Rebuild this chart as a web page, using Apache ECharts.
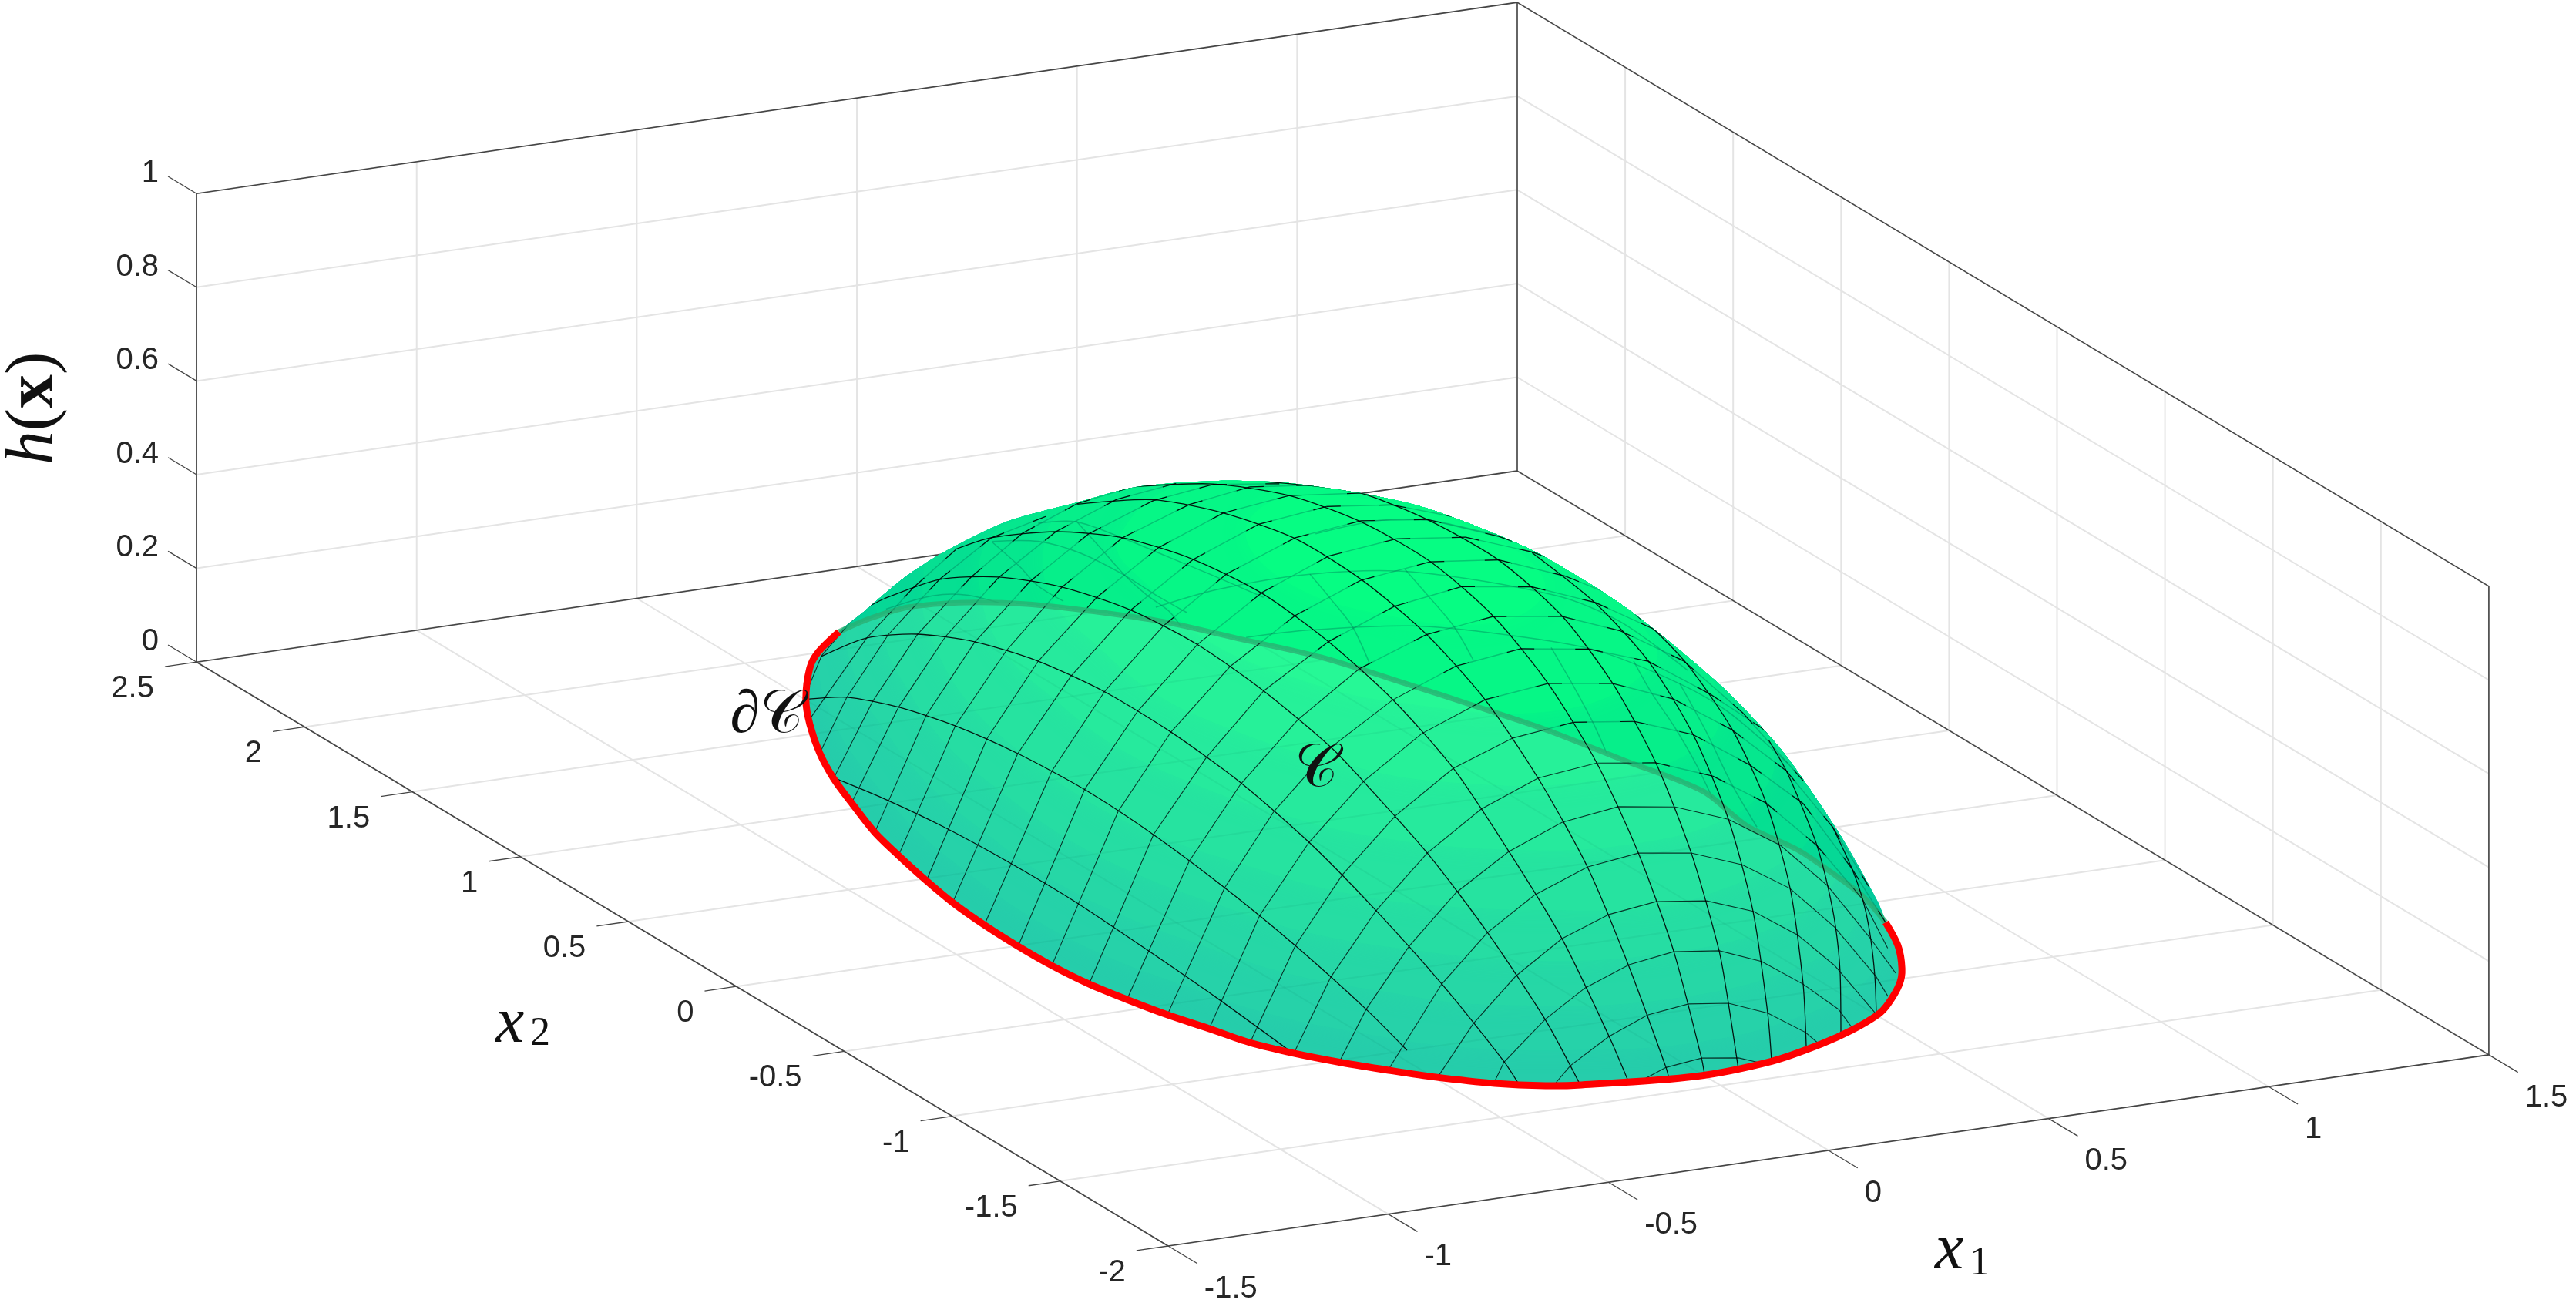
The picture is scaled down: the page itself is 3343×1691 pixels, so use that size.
<!DOCTYPE html>
<html>
<head>
<meta charset="utf-8">
<title>h(x)</title>
<style>
    html, body { margin: 0; padding: 0; background: #fff; }
    #chart { width: 3343px; height: 1691px; }
</style>
<script src="https://cdn.jsdelivr.net/npm/echarts@6/dist/echarts.min.js"></script>
</head>
<body>
<div id="chart"></div>
<script>
// axis ticks
const x1Ticks = [-1.5, -1, -0.5, 0, 0.5, 1, 1.5];
const x2Ticks = [-2, -1.5, -1, -0.5, 0, 0.5, 1, 1.5, 2, 2.5];
const hTicks = [0, 0.2, 0.4, 0.6, 0.8, 1];
const x1Labels = ['-1.5', '-1', '-0.5', '0', '0.5', '1', '1.5'];
const x2Labels = ['-2', '-1.5', '-1', '-0.5', '0', '0.5', '1', '1.5', '2', '2.5'];
const hLabels = ['0', '0.2', '0.4', '0.6', '0.8', '1'];

// boundary of the set on the floor, the first 37 points are the visible red part
const boundaryX1 = [0.799, 0.751, 0.688, 0.637, 0.555, 0.503, 0.408, 0.31, 0.169, -0.019, -0.253, -0.321, -0.407, -0.496, -0.561, -0.624, -0.683, -0.731, -0.763, -0.797, -0.825, -0.847, -0.859, -0.862, -0.859, -0.849, -0.83, -0.804, -0.777, -0.73, -0.688, -0.636, -0.567, -0.499, -0.396, -0.334, -0.232,
    -0.137, -0.03, 0.092, 0.196, 0.284, 0.393, 0.483, 0.573, 0.654, 0.7, 0.764, 0.814, 0.864, 0.839, 0.859, 0.85, 0.837];
const boundaryX2 = [-0.635, -0.79, -0.937, -1.03, -1.144, -1.202, -1.275, -1.333, -1.395, -1.421, -1.371, -1.344, -1.284, -1.192, -1.107, -1.017, -0.916, -0.81, -0.687, -0.564, -0.431, -0.301, -0.154, -0.003, 0.155, 0.322, 0.486, 0.669, 0.834, 1.036, 1.206, 1.376, 1.562, 1.719, 1.911, 2, 2.11,
    2.164, 2.201, 2.177, 2.114, 2.023, 1.881, 1.7, 1.519, 1.259, 1.1, 0.867, 0.605, 0.343, 0.088, -0.106, -0.304, -0.452];
const frontCount = 37;

// outer edge of the dome as it is seen, left to right
const edgeX1 = [-0.193, -0.163, -0.156, -0.161, -0.115, -0.032, 0.061, 0.149, 0.218, 0.294, 0.4, 0.498, 0.65, 0.706, 0.735, 0.777];
const edgeX2 = [2.071, 1.95, 1.782, 1.48, 1.245, 1.143, 0.964, 0.837, 0.611, 0.455, 0.196, -0.038, -0.165, -0.342, -0.541, -0.644];
const edgeH = [0.05, 0.15, 0.25, 0.4, 0.5, 0.55, 0.6, 0.62, 0.65, 0.65, 0.62, 0.55, 0.4, 0.3, 0.18, 0.05];

// height bands of the dome
const bandLevels = [0.03, 0.1, 0.18, 0.26, 0.35, 0.45, 0.55, 0.65, 0.73];
const bandH = [0, 0.06, 0.14, 0.22, 0.3, 0.4, 0.5, 0.6, 0.7];
const bandX1 = [
    [],
    [0, -0.214, -0.449, -0.592, -0.699, -0.766, -0.818, -0.835, -0.815, -0.774, -0.696, -0.603, -0.45, -0.2, 1, 1.4, 1.4, 0.8, 0.713, 0.608, 0.453, 0.226],
    [0, -0.376, -0.537, -0.656, -0.725, -0.778, -0.797, -0.775, -0.734, -0.651, -0.552, -0.375, 0, 1, 1.3, 1.3, 0.755, 0.664, 0.549, 0.382],
    [0, -0.275, -0.473, -0.607, -0.684, -0.739, -0.758, -0.736, -0.694, -0.6, -0.489, -0.3, 0.5, 1.2, 1.2, 0.715, 0.612, 0.488, 0.282],
    [0, -0.07, -0.389, -0.544, -0.631, -0.7, -0.72, -0.695, -0.642, -0.537, -0.403, -0.2, 0.5, 1.1, 1.1, 0.67, 0.554, 0.404, 0.08],
    [0, -0.234, -0.444, -0.555, -0.619, -0.645, -0.614, -0.562, -0.436, -0.257, -0.1, 0.3, 0.9, 0.9, 0.581, 0.451, 0.254],
    [0, -0.305, -0.448, -0.525, -0.555, -0.516, -0.456, -0.292, -0.165, 0, 0.3, 0.6, 0.65, 0.56, 0.536, 0.458, 0.308],
    [0, -0.29, -0.402, -0.44, -0.389, -0.306, 0, 0.357, 0.45, 0.458, 0.406, 0.31],
    [0, -0.186, -0.259, -0.181, 0, 0.188, 0.258, 0.189]
];
const bandX2 = [
    [],
    [-1.385, -1.337, -1.199, -1.012, -0.811, -0.563, -0.302, -0.007, 0.332, 0.668, 1.036, 1.375, 1.76, 2.2, 2.2, 1, -0.5, -0.563, -0.811, -1.012, -1.199, -1.337],
    [-1.325, -1.199, -1.012, -0.811, -0.563, -0.302, -0.007, 0.332, 0.668, 1.036, 1.375, 1.76, 2.1, 2, 1, -0.4, -0.563, -0.811, -1.012, -1.199],
    [-1.27, -1.199, -1.012, -0.811, -0.563, -0.302, -0.007, 0.332, 0.668, 1.036, 1.375, 1.76, 1.9, 1, -0.3, -0.563, -0.811, -1.012, -1.199],
    [-1.21, -1.199, -1.012, -0.811, -0.563, -0.302, -0.007, 0.332, 0.668, 1.036, 1.375, 1.7, 1.8, 1, -0.1, -0.563, -0.811, -1.012, -1.199],
    [-1.085, -1.012, -0.811, -0.563, -0.302, -0.007, 0.332, 0.668, 1.036, 1.375, 1.5, 1.6, 1, 0, -0.563, -0.811, -1.012],
    [-0.95, -0.811, -0.563, -0.302, -0.007, 0.332, 0.668, 1.036, 1.205, 1.28, 1.25, 0.9, 0.332, -0.007, -0.302, -0.563, -0.811],
    [-0.77, -0.563, -0.302, -0.007, 0.332, 0.668, 0.97, 0.668, 0.332, -0.007, -0.302, -0.563],
    [-0.46, -0.302, -0.007, 0.332, 0.51, 0.332, -0.007, -0.302]
];

// mesh lines running along x2
const arcX1 = [-0.686, -0.498, -0.362, -0.251, -0.155, -0.073, 0.007, 0.084, 0.166, 0.265, 0.37, 0.5, 0.697];
const arcX2 = [
    [1.208, 0.973, 0.702, 0.409, 0.091, -0.23, -0.576, -0.919],
    [1.721, 1.531, 1.292, 1.028, 0.739, 0.429, 0.111, -0.217, -0.546, -0.874, -1.063],
    [1.927, 1.716, 1.481, 1.217, 0.924, 0.613, 0.307, -0.011, -0.332, -0.643, -0.946, -1.235, -1.299],
    [1.97, 1.86, 1.606, 1.332, 1.039, 0.721, 0.411, 0.104, -0.207, -0.353, -0.653, -0.931, -1.199, -1.356],
    [1.727, 1.563, 1.263, 0.953, 0.628, 0.307, 0, -0.296, -0.578, -0.835, -1.081, -1.299, -1.388],
    [1.33, 0.977, 0.656, 0.32, 0.01, -0.286, -0.557, -0.804, -1.032, -1.221, -1.396, -1.41],
    [1.24, 0.865, 0.512, 0.18, -0.141, -0.43, -0.687, -0.912, -1.105, -1.269, -1.397, -1.411],
    [0.787, 0.573, 0.338, 0.027, -0.301, -0.594, -0.829, -1.029, -1.193, -1.322, -1.365, -1.411],
    [-0.288, -0.58, -0.827, -1.034, -1.198, -1.312, -1.38, -1.398],
    [-0.507, -0.789, -1.014, -1.171, -1.282, -1.342, -1.357],
    [-0.968, -1.05, -1.128, -1.192, -1.242, -1.278, -1.299, -1.303],
    [-0.999, -1.088, -1.141, -1.173, -1.195, -1.202],
    [-0.819, -0.879, -0.915]
];
const arcH = [
    [0, 0.02, 0.036, 0.044, 0.045, 0.035, 0.021, 0.001],
    [0, 0.057, 0.102, 0.135, 0.156, 0.165, 0.157, 0.135, 0.102, 0.057, 0.022],
    [0.016, 0.114, 0.187, 0.244, 0.284, 0.304, 0.303, 0.285, 0.245, 0.185, 0.113, 0.027, 0],
    [0.086, 0.143, 0.254, 0.335, 0.395, 0.434, 0.446, 0.432, 0.398, 0.368, 0.296, 0.204, 0.092, 0.001],
    [0.272, 0.342, 0.438, 0.511, 0.555, 0.571, 0.553, 0.512, 0.443, 0.337, 0.219, 0.071, 0],
    [0.467, 0.574, 0.635, 0.673, 0.67, 0.637, 0.573, 0.473, 0.347, 0.191, 0.02, 0],
    [0.518, 0.628, 0.701, 0.737, 0.741, 0.706, 0.632, 0.525, 0.386, 0.221, 0.03, 0],
    [0.644, 0.695, 0.744, 0.773, 0.778, 0.74, 0.661, 0.547, 0.4, 0.227, 0.127, 0],
    [0.779, 0.753, 0.697, 0.598, 0.462, 0.297, 0.098, 0],
    [0.726, 0.675, 0.589, 0.476, 0.324, 0.137, 0],
    [0.54, 0.497, 0.436, 0.377, 0.304, 0.228, 0.138, 0],
    [0.346, 0.282, 0.226, 0.164, 0.081, 0],
    [0.104, 0.055, 0]
];

// mesh lines running along x1
const crossX2 = [-1.4, -1.337, -1.27, -1.199, -1.103, -1.012, -0.916, -0.811, -0.687, -0.563, -0.437, -0.302, -0.154, -0.007, 0.166, 0.332, 0.486, 0.668, 0.833, 1.036, 1.205, 1.375, 1.596, 1.76];
const crossX1 = [
    [-0.133, -0.075, 0.006, 0.09, 0.144],
    [-0.294, -0.261, -0.174, -0.086, 0.007, 0.098, 0.187, 0.273, 0.306],
    [-0.4, -0.379, -0.286, -0.195, -0.095, 0.006, 0.11, 0.206, 0.3, 0.381, 0.414],
    [-0.494, -0.414, -0.318, -0.213, -0.106, 0.001, 0.116, 0.222, 0.323, 0.407, 0.502],
    [-0.56, -0.439, -0.335, -0.229, -0.108, 0.008, 0.128, 0.244, 0.352, 0.454, 0.548, 0.575],
    [-0.627, -0.566, -0.468, -0.361, -0.242, -0.121, 0.007, 0.136, 0.257, 0.376, 0.483, 0.579, 0.637],
    [-0.683, -0.599, -0.496, -0.38, -0.258, -0.128, 0.005, 0.14, 0.269, 0.39, 0.505, 0.609, 0.666],
    [-0.731, -0.628, -0.521, -0.4, -0.269, -0.134, 0.004, 0.142, 0.275, 0.405, 0.526, 0.636, 0.713],
    [-0.763, -0.648, -0.536, -0.411, -0.28, -0.136, 0.007, 0.154, 0.292, 0.425, 0.548, 0.653, 0.735],
    [-0.797, -0.667, -0.555, -0.426, -0.286, -0.142, 0.005, 0.161, 0.295, 0.434, 0.56, 0.682, 0.752],
    [-0.828, -0.686, -0.569, -0.439, -0.299, -0.147, 0.004, 0.161, 0.294, 0.438, 0.573, 0.709],
    [-0.847, -0.7, -0.58, -0.45, -0.303, -0.153, -0.002, 0.159, 0.303, 0.436, 0.574],
    [-0.859, -0.708, -0.588, -0.453, -0.306, -0.157, 0.001, 0.156, 0.309, 0.438, 0.585],
    [-0.864, -0.712, -0.591, -0.456, -0.309, -0.158, -0.004, 0.153, 0.304, 0.438, 0.552],
    [-0.854, -0.702, -0.581, -0.448, -0.305, -0.149, 0, 0.152, 0.313, 0.453, 0.55],
    [-0.845, -0.698, -0.577, -0.442, -0.3, -0.151, 0.004, 0.153, 0.307, 0.456, 0.561],
    [-0.83, -0.692, -0.576, -0.443, -0.303, -0.156, -0.006, 0.157, 0.313, 0.47],
    [-0.804, -0.675, -0.559, -0.433, -0.295, -0.144, -0.006, 0.131, 0.306, 0.446],
    [-0.777, -0.66, -0.55, -0.424, -0.291, -0.144, -0.009, 0.142],
    [-0.73, -0.624, -0.517, -0.396, -0.266, -0.128, 0.007],
    [-0.688, -0.599, -0.497, -0.376, -0.259, -0.135, -0.01],
    [-0.636, -0.575, -0.48, -0.365, -0.247, -0.123],
    [-0.55, -0.421, -0.314, -0.219],
    [-0.478, -0.443, -0.354]
];
const crossH = [
    [0, 0.021, 0.03, 0.019, 0],
    [0.001, 0.033, 0.083, 0.117, 0.128, 0.117, 0.084, 0.031, 0],
    [0, 0.038, 0.116, 0.171, 0.207, 0.221, 0.209, 0.173, 0.112, 0.047, 0],
    [0.003, 0.105, 0.193, 0.259, 0.296, 0.309, 0.295, 0.258, 0.194, 0.117, 0],
    [0, 0.166, 0.262, 0.327, 0.371, 0.385, 0.369, 0.328, 0.263, 0.166, 0.048, 0.002],
    [0, 0.104, 0.226, 0.326, 0.397, 0.443, 0.459, 0.441, 0.398, 0.326, 0.225, 0.101, 0.018],
    [0, 0.151, 0.279, 0.386, 0.463, 0.512, 0.526, 0.508, 0.462, 0.388, 0.282, 0.153, 0.041],
    [0, 0.193, 0.33, 0.44, 0.523, 0.569, 0.584, 0.567, 0.521, 0.438, 0.339, 0.186, 0.06],
    [0, 0.226, 0.367, 0.481, 0.564, 0.617, 0.632, 0.612, 0.56, 0.476, 0.372, 0.238, 0.1],
    [0, 0.253, 0.401, 0.52, 0.602, 0.655, 0.672, 0.65, 0.606, 0.518, 0.423, 0.287, 0.146],
    [0, 0.277, 0.426, 0.546, 0.636, 0.688, 0.706, 0.685, 0.636, 0.552, 0.422, 0.26],
    [0, 0.3, 0.448, 0.572, 0.657, 0.712, 0.733, 0.711, 0.658, 0.583, 0.468],
    [0, 0.309, 0.462, 0.584, 0.672, 0.727, 0.745, 0.728, 0.672, 0.605, 0.483],
    [0, 0.316, 0.467, 0.59, 0.681, 0.738, 0.754, 0.736, 0.684, 0.62, 0.506],
    [0, 0.305, 0.46, 0.581, 0.672, 0.728, 0.744, 0.726, 0.668, 0.603, 0.524],
    [0, 0.296, 0.445, 0.567, 0.656, 0.711, 0.728, 0.711, 0.662, 0.596, 0.524],
    [0, 0.285, 0.434, 0.552, 0.639, 0.693, 0.71, 0.693, 0.647, 0.576],
    [0, 0.259, 0.404, 0.522, 0.609, 0.659, 0.678, 0.663, 0.622, 0.562],
    [0, 0.234, 0.375, 0.488, 0.571, 0.622, 0.638, 0.619],
    [0, 0.189, 0.326, 0.436, 0.516, 0.566, 0.582],
    [0, 0.153, 0.282, 0.387, 0.465, 0.511, 0.53],
    [0, 0.11, 0.232, 0.333, 0.406, 0.435],
    [0, 0.155, 0.249, 0.316],
    [0, 0.075, 0.16]
];

// faint far side of the surface, lines along x1 then lines along x2
const farCrossX2 = [0.5, -0.1, 0.9, 1.3, 1, 1.7];
const farCrossX1 = [
    [-0.302, -0.162, 0.048, 0.281, 0.608, 0.754, 0.906],
    [-0.391, -0.246, -0.013, 0.192, 0.402, 0.594, 0.704, 0.839],
    [0.257, 0.397, 0.512, 0.624, 0.805, 1.015],
    [-0.282, -0.177, -0.079, 0.015, 0.085, 0.161],
    [-0.324, -0.237, -0.132, -0.027, 0.066, 0.188],
    [-0.326, -0.221, -0.139, -0.023, 0.112]
];
const farCrossH = [
    [0.508, 0.527, 0.531, 0.504, 0.409, 0.333, 0.209],
    [0.622, 0.618, 0.595, 0.549, 0.487, 0.389, 0.314, 0.186],
    [0.478, 0.487, 0.472, 0.435, 0.369, 0.222],
    [0.424, 0.41, 0.371, 0.314, 0.263, 0.212],
    [0.552, 0.543, 0.494, 0.439, 0.39, 0.324],
    [0.175, 0.189, 0.179, 0.134, 0.079]
];
const farArcX1 = [0.6, 0.6, 0.6, 0.6, 0.6, 0, -0.2];
const farArcX2 = [
    [1.186, 1.079, 0.958, 0.868],
    [1.625, 1.536, 1.429, 1.35],
    [0.508, 0.411, 0.315, 0.251],
    [0.126, 0.047, -0.063, -0.16, -0.242],
    [-0.088, -0.206, -0.327, -0.445],
    [1.483, 1.376, 1.265, 1.158, 1.055, 0.984],
    [1.468, 1.339, 1.254, 1.136]
];
const farArcH = [
    [0.277, 0.25, 0.217, 0.17],
    [0.144, 0.12, 0.087, 0.031],
    [0.297, 0.247, 0.191, 0.143],
    [0.374, 0.331, 0.286, 0.236, 0.181],
    [0.385, 0.319, 0.238, 0.178],
    [0.378, 0.353, 0.326, 0.311, 0.305, 0.281],
    [0.366, 0.349, 0.331, 0.331]
];

// view of the box: floor corner at x1=-1.5, x2=-2 and screen step per unit of each axis
const view = {
    ox: 1516, oy: 1617,
    x1: [571.3, -82.7],
    x2: [-280.2, -168.4],
    h: [0, -608]
};
const x1Min = -1.5, x1Max = 1.5, x2Min = -2, x2Max = 2.5, hMin = 0, hMax = 1;

const sansFont = '"Liberation Sans", Arial, sans-serif';
const serifFont = '"Liberation Serif", "DejaVu Serif", serif';
const axisColor = '#444';
const gridColor = '#e4e4e4';
const textColor = '#262626';
const farColor = 'rgba(0,115,85,0.38)';

function project(api, x1, x2, h) {
    let sx = view.ox + (x1 - x1Min) * view.x1[0] + (x2 - x2Min) * view.x2[0] + h * view.h[0];
    let sy = view.oy + (x1 - x1Min) * view.x1[1] + (x2 - x2Min) * view.x2[1] + h * view.h[1];
    return api.coord([sx, sy]);
}

function line(api, a, b, color, width) {
    let p = project(api, a[0], a[1], a[2]);
    let q = project(api, b[0], b[1], b[2]);
    return {
        type: 'line',
        shape: { x1: p[0], y1: p[1], x2: q[0], y2: q[1] },
        style: { stroke: color, lineWidth: width }
    };
}

function label(api, p, dx, dy, text, align) {
    let c = project(api, p[0], p[1], p[2]);
    return {
        type: 'text',
        x: c[0] + dx,
        y: c[1] + dy,
        style: { text: text, font: '40px ' + sansFont, fill: textColor, align: align, verticalAlign: 'middle' }
    };
}

function plainText(x, y, text, size, style, align) {
    return {
        type: 'text',
        x: x,
        y: y,
        style: { text: text, font: style + ' ' + size + 'px ' + serifFont, fill: '#111', align: align, verticalAlign: 'middle' }
    };
}

function stroke(points, color, width, smooth) {
    return {
        type: 'polyline',
        shape: { points: points, smooth: smooth || 0 },
        style: { stroke: color, lineWidth: width, fill: null }
    };
}

function clipTo(points, smooth) {
    return { type: 'polygon', shape: { points: points, smooth: smooth } };
}

// winter colormap seen through a surface of alpha .85
function surfaceColor(h, layers) {
    let g = 0.76 + 0.32 * h;
    let r1 = 38, g1 = 216.75 * g + 38, b1 = 216.75 * (1 - g / 2) + 38;
    if (layers === 2) {
        r1 = 0.15 * r1;
        g1 = 216.75 * g + 0.15 * g1;
        b1 = 216.75 * (1 - g / 2) + 0.15 * b1;
    }
    return 'rgb(' + Math.round(r1) + ',' + Math.round(g1) + ',' + Math.round(b1) + ')';
}

function outlinePoints(api) {
    let pts = [];
    for (let i = 0; i < frontCount; i++) pts.push(project(api, boundaryX1[i], boundaryX2[i], 0));
    edgeX1.forEach(function (v, i) { pts.push(project(api, v, edgeX2[i], edgeH[i])); });
    return pts;
}

function farBoundaryPoints(api) {
    let pts = [];
    for (let i = frontCount - 1; i < boundaryX1.length; i++) pts.push(project(api, boundaryX1[i], boundaryX2[i], 0));
    pts.push(project(api, boundaryX1[0], boundaryX2[0], 0));
    return pts;
}

function upperPoints(api) {
    let pts = farBoundaryPoints(api);
    for (let i = edgeX1.length - 1; i >= 0; i--) pts.push(project(api, edgeX1[i], edgeX2[i], edgeH[i]));
    return pts;
}

function bandGroup(api, layers, clipPoints) {
    let children = [{
        type: 'polygon',
        shape: { points: clipPoints, smooth: 0.25 },
        style: { fill: surfaceColor(bandLevels[0], layers) }
    }];
    for (let k = 1; k < bandH.length; k++) {
        let pts = bandX1[k].map(function (v, i) { return project(api, v, bandX2[k][i], bandH[k]); });
        let color = surfaceColor(bandLevels[k], layers);
        children.push({
            type: 'polygon',
            shape: { points: pts, smooth: 0.4 },
            style: { fill: color, shadowBlur: 26, shadowColor: color }
        });
    }
    return { type: 'group', children: children, clipPath: clipTo(clipPoints, 0.25) };
}

function renderGrid(params, api) {
    let c = [];
    x1Ticks.forEach(function (v) {
        c.push(line(api, [v, x2Min, 0], [v, x2Max, 0], gridColor, 2));
        c.push(line(api, [v, x2Max, hMin], [v, x2Max, hMax], gridColor, 2));
    });
    x2Ticks.forEach(function (v) {
        c.push(line(api, [x1Min, v, 0], [x1Max, v, 0], gridColor, 2));
        c.push(line(api, [x1Max, v, hMin], [x1Max, v, hMax], gridColor, 2));
    });
    hTicks.forEach(function (v) {
        c.push(line(api, [x1Min, x2Max, v], [x1Max, x2Max, v], gridColor, 2));
        c.push(line(api, [x1Max, x2Max, v], [x1Max, x2Min, v], gridColor, 2));
    });
    // box edges
    let edges = [
        [[x1Min, x2Max, 0], [x1Min, x2Max, 1]],
        [[x1Max, x2Max, 0], [x1Max, x2Max, 1]],
        [[x1Max, x2Min, 0], [x1Max, x2Min, 1]],
        [[x1Min, x2Max, 1], [x1Max, x2Max, 1]],
        [[x1Max, x2Max, 1], [x1Max, x2Min, 1]],
        [[x1Min, x2Max, 0], [x1Max, x2Max, 0]],
        [[x1Max, x2Max, 0], [x1Max, x2Min, 0]],
        [[x1Min, x2Max, 0], [x1Min, x2Min, 0]],
        [[x1Min, x2Min, 0], [x1Max, x2Min, 0]]
    ];
    edges.forEach(function (e) { c.push(line(api, e[0], e[1], axisColor, 1.6)); });
    return { type: 'group', children: c };
}

function renderTicks(params, api) {
    let c = [];
    x1Ticks.forEach(function (v, i) {
        c.push(line(api, [v, x2Min, 0], [v, x2Min - 0.135, 0], axisColor, 1.3));
        let p = [v, x2Min - 0.135, 0];
        c.push(label(api, p, 9, 33, x1Labels[i], 'left'));
    });
    x2Ticks.forEach(function (v, i) {
        c.push(line(api, [x1Min, v, 0], [x1Min - 0.072, v, 0], axisColor, 1.3));
        let p = [x1Min - 0.072, v, 0];
        c.push(label(api, p, -14, 29, x2Labels[i], 'right'));
    });
    hTicks.forEach(function (v, i) {
        c.push(line(api, [x1Min, x2Max, v], [x1Min, x2Max + 0.132, v], axisColor, 1.3));
        let p = [x1Min, x2Max + 0.132, v];
        c.push(label(api, p, -12, -4, hLabels[i], 'right'));
    });
    // axis names
    c.push(plainText(2511, 1624, 'x', 84, 'italic', 'left'));
    c.push(plainText(2556, 1640, '1', 52, 'normal', 'left'));
    c.push(plainText(643, 1330, 'x', 84, 'italic', 'left'));
    c.push(plainText(688, 1342, '2', 52, 'normal', 'left'));
    c.push({
        type: 'text',
        x: 45,
        y: 530,
        rotation: Math.PI / 2,
        style: {
            text: '{i|h}{n|(}{b|x}{n|)}',
            align: 'center',
            verticalAlign: 'middle',
            fill: '#111',
            rich: {
                i: { font: 'italic 88px ' + serifFont, fill: '#111' },
                n: { font: '88px ' + serifFont, fill: '#111' },
                b: { font: 'bold 88px ' + serifFont, fill: '#111' }
            }
        }
    });
    return { type: 'group', children: c };
}

function renderDome(params, api) {
    let outline = outlinePoints(api);
    let upper = upperPoints(api);
    let c = [bandGroup(api, 1, outline)];
    // floor grid seen through the surface
    let faint = [];
    x1Ticks.forEach(function (v) { faint.push(line(api, [v, x2Min, 0], [v, x2Max, 0], 'rgba(0,90,70,0.06)', 2)); });
    x2Ticks.forEach(function (v) { faint.push(line(api, [x1Min, v, 0], [x1Max, v, 0], 'rgba(0,90,70,0.06)', 2)); });
    c.push({ type: 'group', children: faint, clipPath: clipTo(outline, 0.25) });
    // part of the surface in front of its own far side
    c.push(bandGroup(api, 2, upper));
    // far side mesh, faint
    let far = [];
    farCrossX2.forEach(function (v, i) {
        far.push(stroke(farCrossX1[i].map(function (x1, j) { return project(api, x1, v, farCrossH[i][j]); }), farColor, 1.5, 0.3));
    });
    farArcX1.forEach(function (v, i) {
        far.push(stroke(farArcX2[i].map(function (x2, j) { return project(api, v, x2, farArcH[i][j]); }), farColor, 1.5, 0.3));
    });
    c.push({ type: 'group', children: far, clipPath: clipTo(upper, 0.25) });
    // far half of the boundary shows through as a dull band
    c.push(stroke(farBoundaryPoints(api), 'rgba(44,172,112,0.75)', 7, 0.3));
    return { type: 'group', children: c };
}

function renderMesh(params, api) {
    let outline = outlinePoints(api);
    let upper = upperPoints(api);
    let floorLoop = boundaryX1.map(function (v, i) { return project(api, v, boundaryX2[i], 0); });
    let arcs = [];
    let crossFront = [];
    let crossBack = [];
    arcX1.forEach(function (v, i) {
        let pts = arcX2[i].map(function (x2, j) { return project(api, v, x2, arcH[i][j]); });
        arcs.push(stroke(pts, 'rgba(0,0,0,0.9)', 1.3, 0.25));
    });
    crossX2.forEach(function (v, i) {
        let pts = crossX1[i].map(function (x1, j) { return project(api, x1, v, crossH[i][j]); });
        crossFront.push(stroke(pts, 'rgba(0,25,20,0.85)', 1.1));
        crossBack.push(stroke(pts, farColor, 1.4));
        // only a short black piece stays around each node on the far part
        pts.forEach(function (p, j) {
            [pts[j - 1], pts[j + 1]].forEach(function (n) {
                if (!n) return;
                let d = Math.hypot(n[0] - p[0], n[1] - p[1]);
                let t = Math.min(1, 18 / d);
                crossBack.push(stroke([p, [p[0] + (n[0] - p[0]) * t, p[1] + (n[1] - p[1]) * t]], 'rgba(0,0,0,0.9)', 1.2));
            });
        });
    });
    return {
        type: 'group',
        children: [
            { type: 'group', children: crossFront, clipPath: clipTo(floorLoop, 0.25) },
            { type: 'group', children: crossBack, clipPath: clipTo(upper, 0.25) },
            { type: 'group', children: arcs, clipPath: clipTo(outline, 0.25) }
        ]
    };
}

function renderBoundary(params, api) {
    let pts = [];
    for (let i = 0; i < frontCount; i++) pts.push(project(api, boundaryX1[i], boundaryX2[i], 0));
    return {
        type: 'group',
        children: [
            stroke(pts, '#ff0000', 9, 0.3),
            plainText(1708, 1000, '\uD835\uDC9E', 78, 'normal', 'center'),
            plainText(1043, 930, '\u2202\uD835\uDC9E', 78, 'normal', 'right')
        ]
    };
}

function layer(render) {
    return {
        type: 'custom',
        coordinateSystem: 'cartesian2d',
        data: [[0, 0]],
        clip: false,
        silent: true,
        animation: false,
        renderItem: render
    };
}

let chart = echarts.init(document.getElementById('chart'), null, { renderer: 'canvas' });
chart.setOption({
    backgroundColor: '#fff',
    animation: false,
    grid: { left: 0, right: 0, top: 0, bottom: 0 },
    xAxis: { type: 'value', min: 0, max: 3343, show: false },
    yAxis: { type: 'value', min: 0, max: 1691, inverse: true, show: false },
    series: [layer(renderGrid), layer(renderTicks), layer(renderDome), layer(renderMesh), layer(renderBoundary)]
});
</script>
</body>
</html>
